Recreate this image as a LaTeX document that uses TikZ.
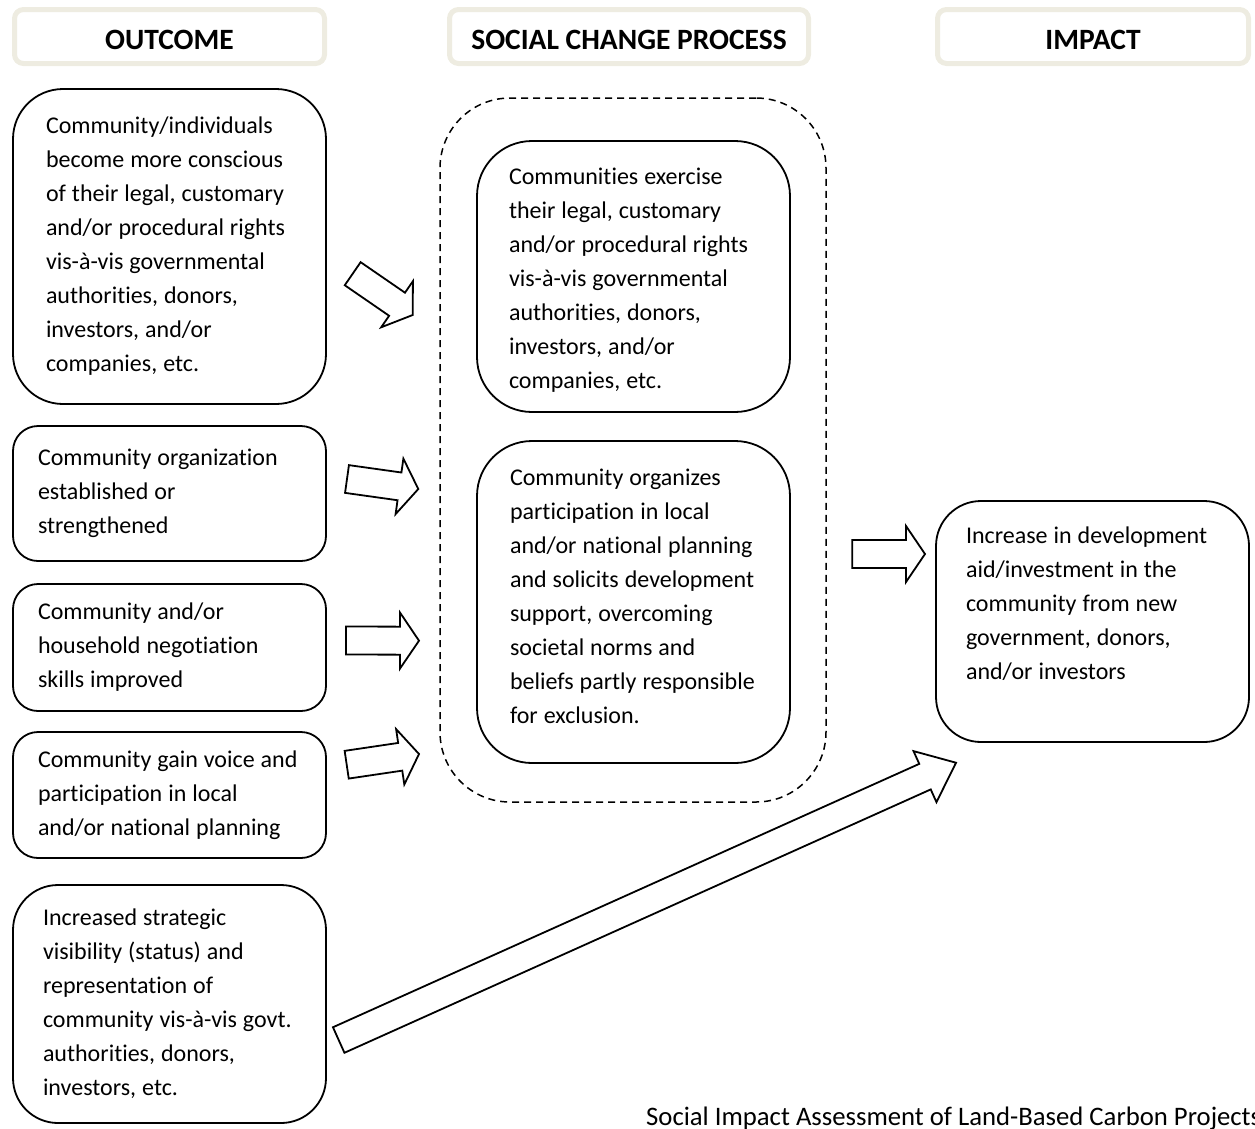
\documentclass[tikz,border=0pt]{standalone}
\usepackage{fontspec}
\setmainfont{Carlito}[Ligatures=NoCommon]
\newfontfamily\srcfont{Carlito}[Ligatures=NoCommon]
\usepackage{xcolor}
\usetikzlibrary{calc}

\definecolor{headline}{RGB}{238,236,225}

% block arrow from tail coordinate to tip coordinate
\newcommand{\blockarrow}[3][19pt]{%
  \coordinate (hb) at ($(#3)!#1!(#2)$);
  \draw[blockarrow] ($(#2)!14pt!90:(#3)$) -- ($(hb)!14pt!-90:(#2)$)
    -- ($(hb)!28pt!-90:(#2)$) -- (#3) -- ($(hb)!28pt!90:(#2)$)
    -- ($(hb)!14pt!90:(#2)$) -- ($(#2)!14pt!-90:(#3)$) -- cycle;
}

\begin{document}
\begin{tikzpicture}[x=1pt,y=-1pt,
    head/.style={draw=headline, line width=5pt, rounded corners=9pt, fill=white,
      font=\fontsize{29.5}{34}\selectfont\bfseries, minimum height=54pt, inner sep=0pt,
      text height=25pt, text depth=0pt},
    box/.style={draw, line width=1.8pt, align=left, text width=#1,
      font=\fontsize{24}{34}\selectfont, inner sep=0pt, minimum width=313pt,
      execute at begin node={\spaceskip=6pt\relax\hyphenpenalty=10000\relax}},
    blockarrow/.style={draw, line width=1.8pt, fill=white}]
  \useasboundingbox (0,0) rectangle (1255,1128);

  % column heads
  \node[head, minimum width=310pt] (hOut) at (169.5,36.5) {OUTCOME};
  \node[head, minimum width=359pt] (hProc) at (629,36.5) {SOCIAL CHANGE PROCESS};
  \node[head, minimum width=311pt] (hImp) at (1093,36.5) {IMPACT};

  % outcomes
  \node[box=247pt, rounded corners=50pt, minimum height=315pt] (out1) at (169.5,246.5)
    {Community/individuals\\ become more conscious\\ of their legal, customary\\
     and/or procedural rights\\ vis-à-vis governmental\\ authorities, donors,\\
     investors, and/or\\ companies, etc.};
  \node[box=263pt, rounded corners=25pt, minimum height=135pt] (out2) at (169.5,493.5)
    {Community organization\\ established or\\ strengthened};
  \node[box=263pt, rounded corners=25pt, minimum height=127pt] (out3) at (169.5,647.5)
    {Community and/or\\ household negotiation\\ skills improved};
  \node[box=263pt, rounded corners=25pt, minimum height=126pt] (out4) at (169.5,795)
    {Community gain voice and\\ participation in local\\ and/or national planning};
  \node[box=253pt, rounded corners=45pt, minimum height=238pt] (out5) at (169.5,1004)
    {Increased strategic\\ visibility (status) and\\ representation of\\
     community vis-à-vis govt.\\ authorities, donors,\\ investors, etc.};

  % social change process
  \node[draw, line width=1.5pt, dash pattern=on 7pt off 5pt, rounded corners=70pt,
    minimum width=386pt, minimum height=704pt] (proc) at (633,450) {};
  \node[box=249pt, rounded corners=55pt, minimum height=271pt] (mid1) at (633.5,276.5)
    {\rule{0pt}{23.5pt}Communities exercise\\ their legal, customary\\ and/or procedural rights\\
     vis-à-vis governmental\\ authorities, donors,\\ investors, and/or\\ companies, etc.};
  \node[box=247pt, rounded corners=55pt, minimum height=322pt] (mid2) at (633.5,602)
    {Community organizes\\ participation in local\\ and/or national planning\\
     and solicits development\\ support, overcoming\\ societal norms and\\
     beliefs partly responsible\\ for exclusion.\rule[-12pt]{0pt}{12pt}};

  % impact
  \node[box=253pt, rounded corners=45pt, minimum height=241pt] (imp) at (1092.5,621.5)
    {Increase in development\\ aid/investment in the\\ community from new\\
     government, donors,\\ and/or investors\rule[-37pt]{0pt}{37pt}};

  % arrows
  \coordinate (a1s) at (352.7,273.7); \coordinate (a1e) at (412.7,315);
  \coordinate (a2s) at (347,479);     \coordinate (a2e) at (418.3,489);
  \coordinate (a3s) at (346,640.5);   \coordinate (a3e) at (419,640.7);
  \coordinate (a4s) at (346.7,764.7); \coordinate (a4e) at (419,754);
  \coordinate (a5s) at (852.3,554);   \coordinate (a5e) at (925,554);
  \coordinate (a6s) at (338.7,1040);  \coordinate (a6e) at (956,762.7);
  \foreach \s/\e in {a1s/a1e,a2s/a2e,a3s/a3e,a4s/a4e,a5s/a5e}
    \blockarrow{\s}{\e};
  \blockarrow[34pt]{a6s}{a6e};

  \node[anchor=base west, inner sep=0pt, font=\srcfont\fontsize{26.7}{30}\selectfont] (src)
    at (646,1125) {Social Impact Assessment of Land-Based Carbon Projects};
\end{tikzpicture}
\end{document}
